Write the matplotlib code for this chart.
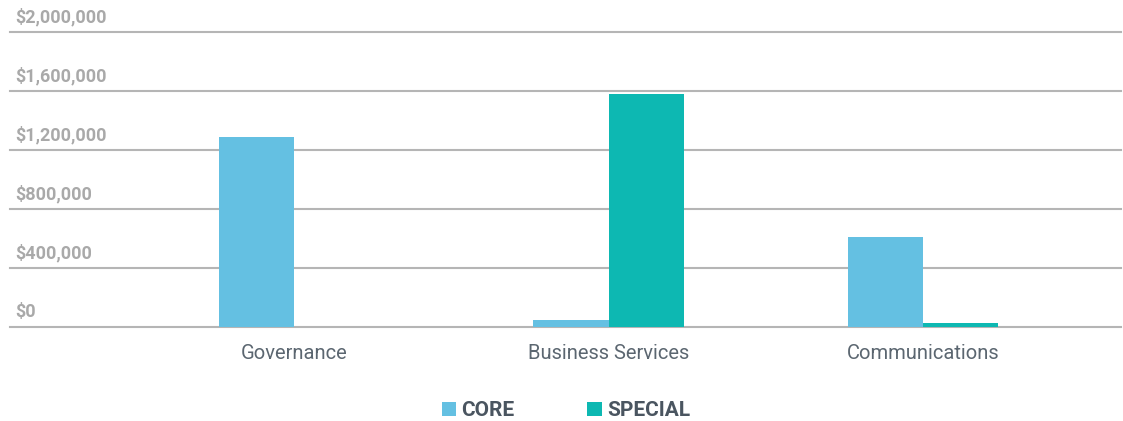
import matplotlib
matplotlib.use("Agg")
import matplotlib.pyplot as plt
from matplotlib.patches import Patch
import numpy as np

categories = ["Governance", "Business Services", "Communications"]
core = [1290000, 47000, 610000]
special = [0, 1580000, 27000]
series_names = ["CORE", "SPECIAL"]
y_ticks = [0, 400000, 800000, 1200000, 1600000, 2000000]
y_labels = ["$0", "$400,000", "$800,000", "$1,200,000", "$1,600,000", "$2,000,000"]

CORE_COLOR = "#64c0e2"
SPECIAL_COLOR = "#0db8b2"
GRID_COLOR = "#b5b5b5"
TICK_COLOR = "#a9a9a9"
LABEL_COLOR = "#5b6670"
LEGEND_COLOR = "#4a5560"

W, H = 1123, 421
fig = plt.figure(figsize=(W / 100, H / 100), dpi=100)
ax = fig.add_axes([10 / W, 1 - 327 / H, (1121 - 10) / W, (327 - 32) / H])

x = np.arange(len(categories))
bw = 0.239
ax.bar(x - bw / 2, core, width=bw, color=CORE_COLOR, zorder=3)
ax.bar(x + bw / 2, special, width=bw, color=SPECIAL_COLOR, zorder=3)

ax.set_ylim(0, 2000000)
ax.set_xlim(-0.904, 2.63)
for s in ax.spines.values():
    s.set_visible(False)
for t in y_ticks:
    ax.axhline(t, color=GRID_COLOR, lw=1.5, zorder=1, clip_on=False)
ax.set_yticks([])
ax.set_xticks(x)
ax.set_xticklabels(categories, fontsize=14.5, color=LABEL_COLOR, family="Roboto")
ax.tick_params(axis="x", length=0, pad=12)

# value labels sit just above each gridline, at the left edge
for t, lab in zip(y_ticks, y_labels):
    ax.text(5 / (1121 - 10), t + 38000, lab, transform=ax.get_yaxis_transform(),
            ha="left", va="bottom", fontsize=13, fontweight="bold",
            color=TICK_COLOR, family="Roboto")

handles = [Patch(facecolor=CORE_COLOR, edgecolor="none"),
           Patch(facecolor=SPECIAL_COLOR, edgecolor="none")]
leg = fig.legend(handles, series_names, loc="center", bbox_to_anchor=(566 / W, 1 - 410.5 / H),
                 ncol=2, frameon=False, handlelength=0.68, handleheight=0.68,
                 handletextpad=0.25, columnspacing=3.5,
                 prop={"family": "Roboto", "weight": "bold", "size": 15})
for t in leg.get_texts():
    t.set_color(LEGEND_COLOR)

fig.savefig("out.png", dpi=100)
